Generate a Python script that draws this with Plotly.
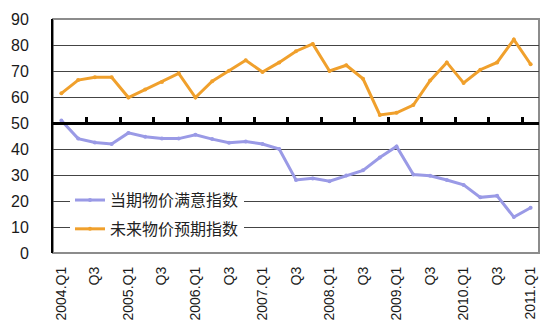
import plotly.graph_objects as go

# Quarterly survey indices, 2004.Q1 - 2011.Q1
quarters = [f"{y}.Q{q}" for y in range(2004, 2011) for q in range(1, 5)] + ["2011.Q1"]
tick_labels = [q if q.endswith("Q1") else "Q3" for q in quarters[::2]]

current_price_satisfaction = [
    51.0, 44.0, 42.5, 41.9, 46.2, 44.7, 44.0, 44.0, 45.5, 43.8, 42.4, 42.9, 41.9,
    40.0, 28.1, 28.7, 27.6, 29.8, 31.8, 36.7, 41.0, 30.2, 29.7, 28.1, 26.2,
    21.4, 22.0, 13.8, 17.4,
]
future_price_expectation = [
    61.4, 66.5, 67.6, 67.6, 59.8, 62.9, 65.8, 69.1, 59.8, 66.1, 70.1, 74.1, 69.6,
    73.3, 77.6, 80.4, 70.0, 72.2, 67.0, 53.1, 53.9, 56.9, 66.3, 73.3, 65.4,
    70.5, 73.3, 82.1, 72.6,
]

names = ["当期物价满意指数", "未来物价预期指数"]
colors = ["#9a9ae6", "#f0a02c"]

fig = go.Figure()
for i, (name, vals, col) in enumerate(zip(names, [current_price_satisfaction, future_price_expectation], colors)):
    fig.add_trace(go.Scatter(
        x=quarters, y=vals, name=name, mode="lines+markers",
        line=dict(color=col, width=3), marker=dict(color=col, size=4),
        legendgroup=f"g{i}",
    ))

# helper trace so the reference line at 50 (xaxis2) is rendered
fig.add_trace(go.Scatter(
    x=list(range(len(quarters))), y=current_price_satisfaction, xaxis="x2",
    mode="lines", line=dict(width=0), opacity=0, showlegend=False, hoverinfo="skip",
))

boundaries = [i - 0.5 for i in range(0, len(quarters), 2)]

fig.update_layout(
    width=550, height=334,
    margin=dict(l=50, r=11, t=15, b=81),
    paper_bgcolor="white", plot_bgcolor="white",
    font=dict(family="Liberation Sans, Arial, sans-serif", color="#1a1a1a"),
    xaxis=dict(
        type="category", tickmode="array", tickvals=quarters[::2], ticktext=tick_labels,
        tickangle=-90, tickfont=dict(size=14), showgrid=False, ticks="",
        showline=False, ticklabelstandoff=10, range=[-0.5, len(quarters) - 0.5],
    ),
    xaxis2=dict(
        overlaying="x", anchor="free", position=50 / 90, range=[-0.5, len(quarters) - 0.5],
        showline=True, linecolor="black", linewidth=3, showgrid=False,
        tickmode="array", tickvals=boundaries, ticks="inside", ticklen=5,
        tickwidth=3, tickcolor="black", showticklabels=False, zeroline=False,
    ),
    yaxis=dict(
        range=[0, 90], dtick=10, showgrid=True, gridcolor="#444444", gridwidth=1,
        zeroline=False, showline=True, linecolor="black", linewidth=2,
        tickfont=dict(size=16), ticks="", ticklabelstandoff=19,
    ),
    legend=dict(
        x=0.035, y=0.164, xanchor="left", yanchor="middle",
        bgcolor="white", borderwidth=0,
        font=dict(size=16, family="Noto Sans CJK SC", color="#222222"),
        traceorder="grouped", tracegroupgap=5,
    ),
    showlegend=True,
    shapes=[dict(
        type="rect", xref="paper", yref="paper", x0=0, x1=1, y0=0, y1=1,
        line=dict(color="#8c8c8c", width=2), layer="below",
    )],
)

fig.write_html("out.html")
